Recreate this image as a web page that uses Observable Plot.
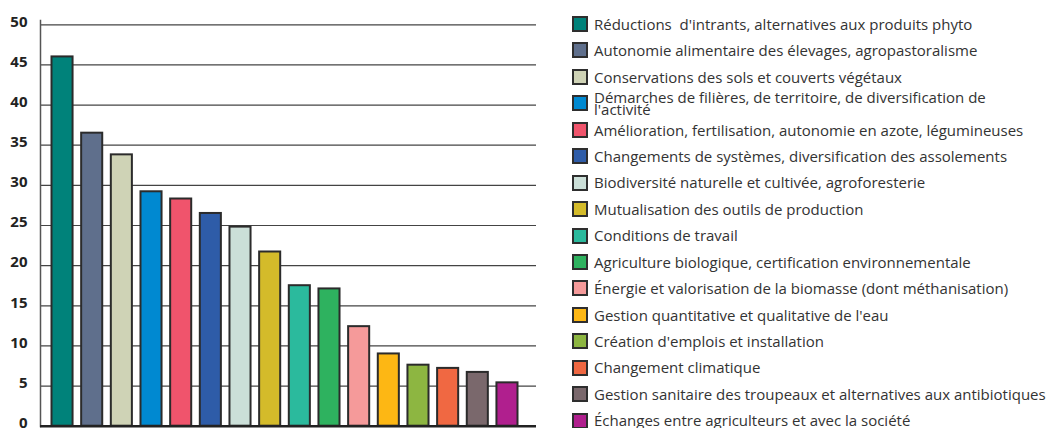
<!DOCTYPE html>
<html><head><meta charset="utf-8">
<script src="https://cdn.jsdelivr.net/npm/d3@7"></script>
<script src="https://cdn.jsdelivr.net/npm/@observablehq/plot@0.6"></script>
<style>
body{margin:0;background:#fff;font-family:"Open Sans",sans-serif;}
#chart{position:absolute;left:0;top:0;}
#legend{position:absolute;left:572px;top:10.8px;}
.row{display:flex;align-items:center;height:26.45px;}
.sw{width:16px;height:16px;box-sizing:border-box;border:2px solid #2e2e2e;flex:none;}
.lb{margin-left:6px;font-size:15px;color:#333;white-space:pre;line-height:12.5px;}
</style></head><body>
<div id="chart"></div><div id="legend"></div>
<script>
const categories = [
  "Réductions  d'intrants, alternatives aux produits phyto",
  "Autonomie alimentaire des élevages, agropastoralisme",
  "Conservations des sols et couverts végétaux",
  "Démarches de filières, de territoire, de diversification de\nl'activité",
  "Amélioration, fertilisation, autonomie en azote, légumineuses",
  "Changements de systèmes, diversification des assolements",
  "Biodiversité naturelle et cultivée, agroforesterie",
  "Mutualisation des outils de production",
  "Conditions de travail",
  "Agriculture biologique, certification environnementale",
  "Énergie et valorisation de la biomasse (dont méthanisation)",
  "Gestion quantitative et qualitative de l'eau",
  "Création d'emplois et installation",
  "Changement climatique",
  "Gestion sanitaire des troupeaux et alternatives aux antibiotiques",
  "Échanges entre agriculteurs et avec la société"
];
const values = [46, 36.5, 33.8, 29.2, 28.3, 26.5, 24.8, 21.7, 17.5, 17.1, 12.4, 9.0, 7.6, 7.2, 6.7, 5.4];
const colors = ["#00827a","#5f6f8c","#cfd3b6","#0089d1","#f0546c","#2e5ca8","#cbdfd8","#d4bb2a",
                "#2bba9d","#2eb25f","#f59a9a","#fdb714","#8db641","#f06842","#7a686c","#b01f8e"];
const yTicks = [0,5,10,15,20,25,30,35,40,45,50];

const data = categories.map((c,i)=>({cat:c, value:values[i]}));

const chart = Plot.plot({
  width: 550, height: 428,
  marginLeft: 40, marginRight: 14, marginTop: 20, marginBottom: 2,
  style: {fontFamily: "'Open Sans', sans-serif", background: "#fff"},
  x: {domain: categories, range: [51.5, 517.5], paddingInner: 0.29, paddingOuter: 0, round: false, axis: null},
  y: {domain: [0, 50], range: [425.7, 24.3], axis: null, label: null},
  color: {domain: categories, range: colors},
  marks: [
    Plot.ruleY(yTicks.filter(d => d > 0), {stroke: "#444", strokeWidth: 1.2}),
    Plot.frame({anchor: "left", stroke: "#555", strokeWidth: 1.5}),
    Plot.barY(data, {x: "cat", y: "value", fill: "cat", stroke: "#2b2b2b", strokeWidth: 2}),
    Plot.ruleY([0], {stroke: "#222", strokeWidth: 2.5}),
    Plot.axisY(yTicks, {tickSize: 0, tickPadding: 13, dy: -3, fontSize: 15, fontWeight: "bold", fill: "#222", label: null})
  ]
});
document.getElementById("chart").append(chart);

const legend = document.getElementById("legend");
categories.forEach((c,i)=>{
  const row = document.createElement("div"); row.className = "row";
  const sw = document.createElement("div"); sw.className = "sw"; sw.style.background = colors[i];
  const lb = document.createElement("div"); lb.className = "lb"; lb.textContent = c;
  row.append(sw, lb); legend.append(row);
});
</script>
</body></html>
